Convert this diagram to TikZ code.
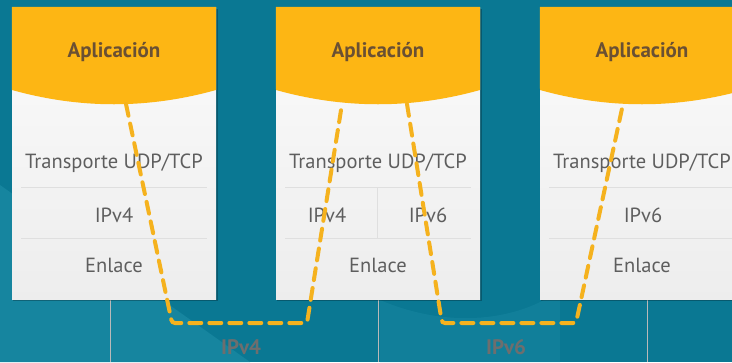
\documentclass[tikz,border=0pt]{standalone}
\usepackage{fontspec}
\setmainfont{PT Sans}
\usetikzlibrary{positioning}
\definecolor{mar}{HTML}{0A7893}
\definecolor{marclaro}{HTML}{16859F}
\definecolor{naranja}{HTML}{FDB614}
\definecolor{tunelcol}{HTML}{F5B21E}
\definecolor{textgris}{HTML}{5E5E5E}
\definecolor{marron}{HTML}{6A5033}
\definecolor{etiq}{HTML}{6E6E6E}
\tikzset{
  caja/.style={rectangle,inner sep=0pt,minimum width=204pt,minimum height=292pt,
    top color=white!97!gray,bottom color=gray!14},
  capa/.style={font=\fontsize{20.5}{22}\selectfont,text=textgris,inner sep=1pt},
  app/.style={font=\fontsize{21}{22}\selectfont\bfseries,text=marron,inner sep=1pt},
  sep/.style={draw=gray!25,line width=.8pt},
  tallo/.style={draw=gray!55,line width=.7pt},
  tunel/.style={line width=4pt,draw=tunelcol,dash pattern=on 12pt off 8pt,
    line cap=round,rounded corners=3pt},
  etiqueta/.style={font=\fontsize{21}{22}\selectfont\bfseries,text=etiq},
}

\begin{document}
\begin{tikzpicture}[x=1pt,y=-1pt]
    \clip (0,0) rectangle (732,362);
    \fill[mar] (0,0) rectangle (732,362);
    \fill[marclaro] (0,185) -- (250,362) -- (0,362) -- cycle;
    \fill[marclaro,opacity=.6] (380,300) .. controls (450,330) and (520,320) .. (560,290) -- (560,362) -- (380,362) -- cycle;
    % stems under the stacks
    \draw[tallo] (110,299) -- (110,362);
    \draw[tallo] (378,299) -- (378,362);
    \draw[tallo] (647,299) -- (647,362);
    % the three stacks
    \foreach \x/\n in {12/1,276/2,540/3}{
      \fill[black,opacity=.25] (\x+1,9) rectangle (\x+206,301);
      \node[caja] (pila\n) at (\x+102,153) {};
      \fill[naranja] (pila\n.north west) -- (pila\n.north east) -- (\x+204,90)
        .. controls (\x+136,109) and (\x+68,109) .. (\x,90) -- cycle;
      \draw[sep] (\x+9,187) -- (\x+195,187);
      \draw[sep] (\x+9,238) -- (\x+195,238);
    }
    \draw[sep] (377,187) -- (377,238);

    \node[app] (app1) at (114,52) {Aplicación};
    \node[capa] (tr1) at (114,163) {Transporte UDP/TCP};
    \node[capa] (ip1) at (114,215) {IPv4};
    \node[capa] (en1) at (114,265) {Enlace};

    \node[app] (app2) at (378,52) {Aplicación};
    \node[capa] (tr2) at (378,163) {Transporte UDP/TCP};
    \node[capa] (ip2a) at (327,215) {IPv4};
    \node[capa] (ip2b) at (428,215) {IPv6};
    \node[capa] (en2) at (378,265) {Enlace};

    \node[app] (app3) at (642,52) {Aplicación};
    \node[capa] (tr3) at (642,163) {Transporte UDP/TCP};
    \node[capa] (ip3) at (643,215) {IPv6};
    \node[capa] (en3) at (642,265) {Enlace};

    % tunnels
    \coordinate (s1) at (126,104);
    \coordinate (b1) at (172,323);
    \coordinate (b2) at (307,323);
    \coordinate (s2) at (342,104);
    \coordinate (s3) at (407,104);
    \coordinate (b3) at (442,323);
    \coordinate (b4) at (576,323);
    \coordinate (s4) at (623,104);
    \draw[tunel] (s1) -- (b1) -- (b2) -- (s2);
    \draw[tunel] (s3) -- (b3) -- (b4) -- (s4);

    \node[etiqueta] (t4) at (241,347) {IPv4};
    \node[etiqueta] (t6) at (506,347) {IPv6};
\end{tikzpicture}
\end{document}
